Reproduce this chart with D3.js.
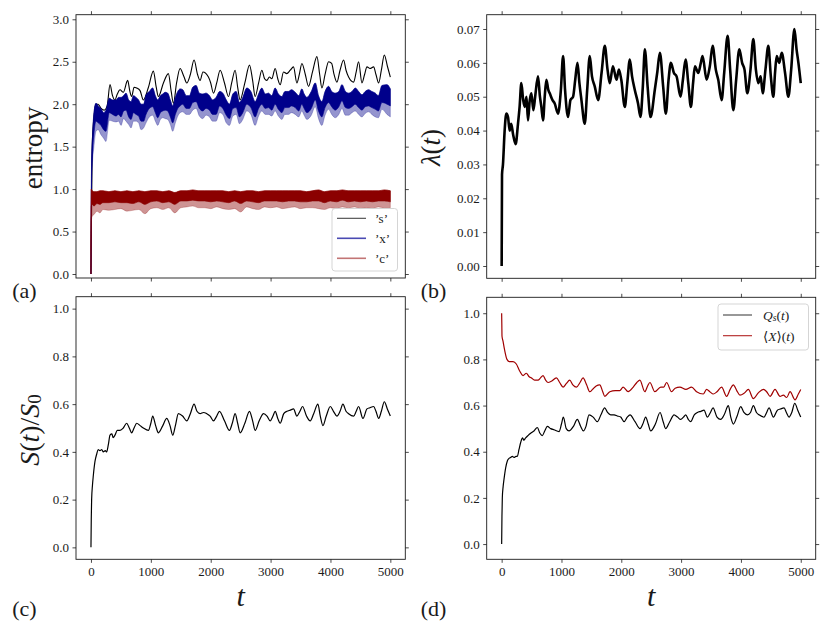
<!DOCTYPE html>
<html><head><meta charset="utf-8">
<script src="https://cdn.jsdelivr.net/npm/d3@7"></script>
<style>
body{margin:0;background:#fff}
svg text{font-family:"Liberation Serif","DejaVu Serif",serif;fill:#1a1a1a}
.tick text{font-size:13px}
</style>
</head><body><svg id="chart" width="831" height="634"></svg>
<script>
// ---------------- data ----------------
const tTicks=[0,1000,2000,3000,4000,5000];
const entropyTicks=[0,0.5,1.0,1.5,2.0,2.5,3.0];
const lambdaTicks=[0,0.01,0.02,0.03,0.04,0.05,0.06,0.07];
const ratioTicks=[0,0.2,0.4,0.6,0.8,1.0];

// (a) 's' entropy
const sT=[0,20,50,80,120,170,220,270,318,360,
 400,440,485,540,613,650,680,720,764,820,
 875,960,1042,1090,1126,1210,1293,1340,1377,1430,
 1488,1550,1600,1660,1722,1780,1823,1870,1962,2000,
 2046,2100,2157,2230,2297,2350,2408,2450,2491,2570,
 2648,2700,2742,2800,2854,2900,2937,2980,3020,3077,
 3120,3160,3216,3270,3328,3383,3439,3480,3523,3580,
 3634,3700,3774,3820,3857,3910,3969,4020,4060,4108,
 4160,4220,4260,4303,4387,4430,4470,4526,4570,4610,
 4660,4721,4760,4805,4850,4900,4950,5000];
const sV=[0,1.5,1.85,2.0,2.0,1.95,1.93,1.98,2.23,2.1,
 2.05,2.12,2.17,2.14,2.28,2.15,2.09,2.2,2.19,2.16,
 2.05,2.2,2.39,2.2,2.09,2.25,2.36,2.15,2.01,2.25,
 2.42,2.33,2.25,2.35,2.52,2.35,2.28,2.38,2.32,2.25,
 2.13,2.25,2.40,2.25,2.09,2.25,2.40,2.2,2.05,2.25,
 2.46,2.28,2.09,2.25,2.40,2.3,2.28,2.32,2.3,2.42,
 2.3,2.23,2.38,2.36,2.40,2.44,2.25,2.35,2.48,2.35,
 2.21,2.38,2.56,2.35,2.19,2.35,2.50,2.48,2.35,2.26,
 2.4,2.52,2.4,2.32,2.26,2.38,2.50,2.25,2.35,2.44,
 2.42,2.44,2.35,2.25,2.4,2.58,2.45,2.32];

// (a) 'x' entropy band (top, core bottom, spike bottom)
const xT=[0,10,25,50,84,120,167,210,251,306,
 360,418,460,502,545,585,630,669,710,752,
 795,836,880,920,975,1031,1075,1115,1160,1199,
 1240,1282,1325,1366,1410,1450,1490,1533,1590,1645,
 1700,1756,1810,1867,1920,1979,2030,2090,2150,2202,
 2260,2313,2370,2425,2480,2536,2603,2670,2742,2800,
 2853,2910,2965,3020,3076,3130,3188,3240,3299,3350,
 3411,3470,3522,3560,3606,3680,3746,3800,3857,3910,
 3969,4020,4080,4140,4192,4250,4303,4360,4414,4470,
 4526,4580,4637,4690,4749,4800,4860,4944,5000];
const xHi=[0,1.3,1.6,1.9,2.01,1.98,1.95,1.9,1.93,2.07,
 2.05,2.05,2.08,2.08,2.1,2.13,2.05,2.03,2.1,2.08,
 2.05,2.0,2.0,2.11,2.15,2.19,2.1,2.05,2.1,2.12,
 2.14,2.13,2.05,1.98,2.08,2.15,2.18,2.17,2.1,2.1,
 2.2,2.22,2.13,2.12,2.13,2.1,2.05,2.08,2.15,2.13,
 2.05,2.0,2.12,2.15,2.02,2.08,2.19,2.15,2.03,2.12,
 2.19,2.12,2.13,2.1,2.19,2.12,2.09,2.15,2.15,2.17,
 2.14,2.1,2.18,2.12,2.08,2.15,2.25,2.1,2.03,2.15,
 2.21,2.15,2.13,2.15,2.23,2.15,2.13,2.15,2.19,2.15,
 2.11,2.15,2.17,2.15,2.13,2.1,2.22,2.23,2.18];
const xMid=[0,1.1,1.4,1.65,1.8,1.78,1.75,1.7,1.68,1.9,
 1.88,1.86,1.88,1.85,1.92,1.93,1.85,1.82,1.9,1.88,
 1.86,1.8,1.8,1.88,1.95,1.97,1.9,1.84,1.9,1.92,
 1.93,1.92,1.85,1.78,1.88,1.95,1.98,2.0,1.95,1.95,
 2.02,2.03,1.95,1.92,1.95,1.93,1.88,1.88,1.98,1.95,
 1.87,1.83,1.95,1.96,1.85,1.9,2.0,1.96,1.85,1.95,
 2.0,1.95,1.96,1.93,2.0,1.94,1.9,1.96,1.96,1.98,
 1.96,1.92,2.0,1.95,1.9,1.95,2.05,1.92,1.85,1.96,
 2.02,1.97,1.93,1.97,2.04,1.96,1.95,1.97,2.0,1.96,
 1.93,1.97,1.98,1.96,1.94,1.92,2.02,2.0,1.98];
const xLo=[0,1.0,1.3,1.5,1.68,1.7,1.64,1.6,1.56,1.81,
 1.8,1.79,1.8,1.75,1.83,1.8,1.76,1.72,1.8,1.8,
 1.78,1.7,1.72,1.78,1.85,1.87,1.8,1.75,1.82,1.84,
 1.83,1.82,1.76,1.68,1.78,1.86,1.9,1.91,1.88,1.88,
 1.93,1.95,1.86,1.83,1.87,1.85,1.8,1.8,1.9,1.88,
 1.78,1.75,1.86,1.88,1.77,1.82,1.92,1.88,1.75,1.86,
 1.92,1.88,1.88,1.86,1.92,1.86,1.82,1.88,1.88,1.9,
 1.88,1.85,1.92,1.87,1.82,1.87,1.97,1.83,1.75,1.87,
 1.94,1.88,1.84,1.88,1.95,1.87,1.87,1.9,1.92,1.88,
 1.85,1.89,1.91,1.88,1.85,1.84,1.94,1.88,1.85];

// (a) 'c' entropy band
const cT=[0,5,20,50,100,150,200,
 300,400,500,600,700,800,900,1000,1100,1200,
 1300,1400,1500,1600,1700,1800,1900,2000,2100,2200,
 2300,2400,2500,2600,2700,2800,2900,3000,3100,3200,
 3300,3400,3500,3600,3700,3800,3900,4000,4100,4200,
 4300,4400,4500,4600,4700,4800,4900,5000];
const cHi=[0,1.0,0.98,0.97,0.97,0.98,0.98,
 0.97,0.98,0.97,0.98,0.97,0.98,0.97,0.98,0.98,0.97,
 0.98,0.96,0.98,0.98,0.99,0.98,0.98,0.98,0.98,0.98,
 0.97,0.98,0.97,0.98,0.98,0.97,0.98,0.98,0.98,0.98,
 0.98,0.98,0.98,0.97,0.98,0.99,0.97,0.98,0.98,0.99,
 0.98,0.98,0.98,0.98,0.98,0.98,0.99,0.98];
const cMid=[0,0.8,0.82,0.8,0.83,0.82,0.84,
 0.84,0.85,0.84,0.84,0.83,0.85,0.82,0.85,0.86,0.84,
 0.85,0.82,0.86,0.86,0.87,0.86,0.86,0.85,0.86,0.85,
 0.84,0.86,0.83,0.86,0.85,0.84,0.86,0.86,0.86,0.85,
 0.86,0.86,0.85,0.85,0.86,0.86,0.84,0.86,0.85,0.87,
 0.85,0.86,0.85,0.86,0.85,0.86,0.86,0.85];
const cLo=[0,0.65,0.68,0.7,0.74,0.72,0.76,
 0.75,0.76,0.77,0.74,0.75,0.76,0.71,0.77,0.78,0.76,
 0.78,0.72,0.78,0.79,0.80,0.78,0.78,0.77,0.79,0.77,
 0.76,0.77,0.73,0.79,0.77,0.76,0.79,0.78,0.79,0.77,
 0.78,0.79,0.77,0.78,0.78,0.77,0.76,0.78,0.77,0.79,
 0.78,0.79,0.77,0.78,0.77,0.79,0.78,0.78];

// (b) lambda(t)
const lamT=[0,6,22,50,78,106,134,160,190,234,
 273,300,329,360,385,415,440,470,497,530,
 560,608,640,664,692,720,748,780,804,850,
 887,943,990,1027,1060,1110,1150,1194,1230,1267,
 1300,1334,1389,1430,1473,1510,1557,1613,1670,1724,
 1770,1808,1860,1920,1960,2000,2059,2100,2143,2180,
 2226,2280,2321,2360,2394,2440,2489,2560,2600,2645,
 2700,2745,2790,2829,2880,2924,2991,3030,3075,3120,
 3164,3200,3231,3287,3330,3359,3426,3480,3527,3580,
 3621,3677,3720,3778,3820,3873,3920,3973,4020,4060,
 4107,4160,4207,4250,4291,4330,4364,4410,4458,4500,
 4542,4570,4598,4640,4682,4738,4793,4840,4894,4930,
 4961,5000];
const lamV=[0,0.027,0.030,0.040,0.045,0.044,0.040,0.042,0.039,0.036,
 0.042,0.047,0.054,0.049,0.047,0.050,0.043,0.049,0.051,0.046,
 0.050,0.056,0.050,0.047,0.043,0.050,0.055,0.052,0.051,0.049,
 0.048,0.045,0.052,0.062,0.052,0.044,0.049,0.050,0.055,0.060,
 0.054,0.049,0.042,0.052,0.062,0.056,0.053,0.049,0.057,0.065,
 0.058,0.054,0.059,0.055,0.058,0.055,0.047,0.054,0.061,0.056,
 0.052,0.048,0.044,0.053,0.064,0.053,0.044,0.052,0.057,0.063,
 0.053,0.045,0.055,0.060,0.057,0.056,0.050,0.055,0.061,0.054,
 0.047,0.054,0.059,0.057,0.060,0.062,0.055,0.059,0.065,0.058,
 0.055,0.049,0.057,0.068,0.058,0.046,0.055,0.064,0.060,0.058,
 0.051,0.058,0.067,0.058,0.054,0.056,0.051,0.058,0.065,0.056,
 0.050,0.057,0.062,0.060,0.063,0.057,0.050,0.058,0.070,0.064,
 0.060,0.054];

// (c) S(t)/S0 and (d) Q_s(t)
const qT=[0,5,11,25,39,67,95,120,150,180,
 206,240,262,290,318,350,370,401,440,485,
 540,596,640,680,720,764,820,875,959,1000,
 1031,1080,1126,1200,1265,1320,1366,1410,1460,1530,
 1600,1660,1722,1770,1823,1880,1934,1990,2046,2100,
 2146,2230,2313,2360,2408,2450,2492,2570,2648,2700,
 2742,2810,2882,2940,2993,3040,3077,3120,3160,3220,
 3272,3330,3383,3439,3490,3534,3600,3662,3720,3790,
 3830,3874,3930,3997,4050,4108,4160,4208,4260,4303,
 4387,4430,4470,4543,4610,4660,4721,4760,4805,4850,
 4900,4950,5000];
const ratioV=[0,0.12,0.20,0.26,0.30,0.36,0.39,0.41,0.405,0.41,
 0.40,0.405,0.40,0.43,0.47,0.475,0.46,0.47,0.49,0.49,
 0.50,0.52,0.50,0.48,0.50,0.52,0.51,0.50,0.49,0.52,
 0.55,0.51,0.48,0.51,0.54,0.51,0.47,0.51,0.56,0.55,
 0.53,0.56,0.60,0.57,0.56,0.565,0.56,0.55,0.53,0.55,
 0.57,0.53,0.49,0.52,0.56,0.52,0.48,0.52,0.57,0.53,
 0.49,0.53,0.56,0.55,0.53,0.55,0.57,0.54,0.52,0.56,
 0.57,0.575,0.58,0.55,0.57,0.59,0.55,0.53,0.56,0.60,
 0.55,0.51,0.55,0.59,0.57,0.55,0.57,0.60,0.57,0.56,
 0.55,0.57,0.59,0.54,0.58,0.585,0.59,0.57,0.54,0.57,
 0.61,0.58,0.55];
const qsV=[0,0.12,0.20,0.25,0.28,0.33,0.36,0.37,0.375,0.38,
 0.375,0.38,0.38,0.41,0.44,0.46,0.45,0.46,0.47,0.48,
 0.49,0.505,0.48,0.47,0.49,0.51,0.50,0.495,0.487,0.52,
 0.55,0.50,0.49,0.51,0.54,0.51,0.49,0.51,0.56,0.55,
 0.53,0.56,0.59,0.57,0.56,0.56,0.555,0.55,0.53,0.55,
 0.56,0.53,0.50,0.52,0.55,0.52,0.49,0.52,0.57,0.53,
 0.50,0.53,0.56,0.55,0.54,0.55,0.56,0.54,0.53,0.56,
 0.57,0.575,0.58,0.55,0.57,0.59,0.55,0.54,0.56,0.60,
 0.55,0.52,0.55,0.595,0.57,0.56,0.57,0.60,0.57,0.56,
 0.55,0.57,0.59,0.55,0.58,0.585,0.59,0.57,0.55,0.57,
 0.61,0.58,0.55];

// (d) <X>(t)
const xmT=[0,3,6,22,50,89,130,190,245,301,
 357,413,460,497,550,608,650,692,735,776,
 830,915,970,1027,1080,1138,1190,1250,1310,1361,
 1420,1473,1520,1580,1640,1690,1724,1808,1900,1975,
 2031,2115,2200,2260,2310,2394,2440,2478,2561,2660,
 2710,2757,2840,2900,2980,3080,3175,3259,3370,3426,
 3480,3538,3600,3677,3761,3820,3873,3930,3984,4060,
 4124,4207,4290,4375,4430,4487,4570,4654,4710,4765,
 4821,4905,4960,5000];
const xmV=[1.0,0.95,0.90,0.88,0.84,0.80,0.79,0.79,0.78,0.75,
 0.73,0.74,0.725,0.72,0.71,0.71,0.72,0.73,0.71,0.70,
 0.705,0.72,0.70,0.68,0.695,0.71,0.69,0.68,0.70,0.72,
 0.69,0.66,0.67,0.685,0.69,0.66,0.64,0.66,0.665,0.665,
 0.68,0.66,0.68,0.70,0.71,0.66,0.685,0.70,0.66,0.68,
 0.68,0.70,0.66,0.675,0.68,0.67,0.68,0.66,0.65,0.67,
 0.66,0.65,0.66,0.68,0.64,0.67,0.69,0.665,0.645,0.655,
 0.67,0.63,0.655,0.67,0.66,0.64,0.67,0.64,0.645,0.635,
 0.66,0.625,0.65,0.67];

const entropyLegend=["’s’","’x’","’c’"];

// ---------------- drawing ----------------
const svg=d3.select("#chart");
const INK="#1a1a1a";
const CURVE=d3.curveMonotoneX;
let clipId=0;

function makePanel(box, ydom){
  const x=d3.scaleLinear().domain([-250,5250]).range([box.x0,box.x1]);
  const y=d3.scaleLinear().domain(ydom).range([box.y1,box.y0]);
  const id="clip"+(clipId++);
  svg.append("clipPath").attr("id",id).append("rect")
    .attr("x",box.x0).attr("y",box.y0).attr("width",box.x1-box.x0).attr("height",box.y1-box.y0);
  const plot=svg.append("g").attr("clip-path","url(#"+id+")");
  return {x,y,plot,box};
}

function finishAxes(P, yticks, yfmt, showX){
  const {x,y,box}=P;
  const styl=g=>{g.select(".domain").remove();
    g.selectAll(".tick line").attr("stroke",INK).attr("stroke-width",0.8);
    g.attr("font-family",null).attr("font-size",null);};
  svg.append("g").attr("transform",`translate(${box.x0},0)`)
    .call(d3.axisLeft(y).tickValues(yticks).tickFormat(d3.format(yfmt)).tickSize(3.5).tickPadding(3.5)).call(styl);
  svg.append("g").attr("transform",`translate(${box.x1},0)`)
    .call(d3.axisRight(y).tickValues(yticks).tickFormat("").tickSize(3.5)).call(styl);
  svg.append("g").attr("transform",`translate(0,${box.y0})`)
    .call(d3.axisTop(x).tickValues(tTicks).tickFormat("").tickSize(3.5)).call(styl);
  svg.append("g").attr("transform",`translate(0,${box.y1})`)
    .call(d3.axisBottom(x).tickValues(tTicks).tickFormat(showX?d3.format("d"):"").tickSize(3.5).tickPadding(4)).call(styl);
  svg.append("rect").attr("x",box.x0).attr("y",box.y0).attr("width",box.x1-box.x0).attr("height",box.y1-box.y0)
    .attr("fill","none").attr("stroke",INK).attr("stroke-width",0.9);
}

function line(P, ts, vs, color, w){
  P.plot.append("path").datum(ts.map((t,i)=>[t,vs[i]]))
    .attr("d",d3.line().curve(CURVE).x(d=>P.x(d[0])).y(d=>P.y(d[1])))
    .attr("fill","none").attr("stroke",color).attr("stroke-width",w).attr("stroke-linejoin","round");
}
function band(P, ts, hi, lo, color, op){
  P.plot.append("path").datum(ts.map((t,i)=>[t,hi[i],lo[i]]))
    .attr("d",d3.area().curve(CURVE).x(d=>P.x(d[0])).y0(d=>P.y(d[2])).y1(d=>P.y(d[1])))
    .attr("fill",color).attr("fill-opacity",op).attr("stroke",color).attr("stroke-opacity",op).attr("stroke-width",0.6);
}

// panel (a)
const A=makePanel({x0:76,x1:405.3,y0:14.7,y1:278},[-0.047,3.054]);
line(A,sT,sV,"#000",1.1);
band(A,xT,xHi,xLo,"#00008b",0.42);
band(A,xT,xHi,xMid,"#00008b",1);
band(A,cT,cHi,cLo,"#8b0000",0.42);
band(A,cT,cHi,cMid,"#8b0000",1);
finishAxes(A,entropyTicks,".1f",false);

// panel (b)
const B=makePanel({x0:486.7,x1:815.7,y0:14.7,y1:278.3},[-0.00363,0.07422]);
line(B,lamT,lamV,"#000",2.6);
finishAxes(B,lambdaTicks,".2f",false);

// panel (c)
const C=makePanel({x0:76,x1:405.3,y0:296.7,y1:559.3},[-0.05,1.05]);
line(C,qT,ratioV,"#000",1.2);
finishAxes(C,ratioTicks,".1f",true);

// panel (d)
const D=makePanel({x0:486.7,x1:815.7,y0:297.3,y1:559.3},[-0.066,1.069]);
line(D,xmT,xmV,"#a00000",1.2);
line(D,qT,qsV,"#000",1.2);
finishAxes(D,ratioTicks,".1f",true);

// axis labels
function rotLabel(cx,cy){return svg.append("text").attr("transform",`translate(${cx},${cy}) rotate(-90)`)
  .attr("text-anchor","middle").attr("dominant-baseline","central");}
rotLabel(32.5,148).attr("font-size",27).text("entropy");
const lb=rotLabel(431,147.5).attr("font-size",27);
lb.append("tspan").attr("font-style","italic").text("λ");
lb.append("tspan").text("(");
lb.append("tspan").attr("font-style","italic").text("t");
lb.append("tspan").text(")");
const sl=rotLabel(28.5,430).attr("font-size",28);
sl.append("tspan").attr("font-style","italic").text("S");
sl.append("tspan").text("(");
sl.append("tspan").attr("font-style","italic").text("t");
sl.append("tspan").text(")/");
sl.append("tspan").attr("font-style","italic").text("S");
sl.append("tspan").attr("font-size",19).attr("dy",5).text("0");

[240.6,651.2].forEach(cx=>{
  svg.append("text").attr("x",cx).attr("y",606).attr("text-anchor","middle")
    .attr("font-size",30).attr("font-style","italic").text("t");
});

// panel letters
[["(a)",24.5,290],["(b)",433.5,290],["(c)",24.5,608],["(d)",433.5,608]].forEach(([s,cx,cy])=>{
  svg.append("text").attr("x",cx).attr("y",cy).attr("text-anchor","middle")
    .attr("dominant-baseline","central").attr("font-size",22).text(s);
});

// legend (a)
svg.append("rect").attr("x",332).attr("y",208.5).attr("width",65.5).attr("height",62.5).attr("rx",3)
  .attr("fill","#fff").attr("fill-opacity",0.85).attr("stroke","#d0d0d0").attr("stroke-width",0.9);
const legColA=["#444","#4a4ab3","#c27575"];
entropyLegend.forEach((s,i)=>{
  const yy=218.3+20*i;
  svg.append("line").attr("x1",337).attr("x2",366).attr("y1",yy).attr("y2",yy)
    .attr("stroke",legColA[i]).attr("stroke-width",i===0?1.1:1.6);
  svg.append("text").attr("x",375).attr("y",yy).attr("dominant-baseline","central").attr("font-size",13).text(s);
});

// legend (d)
svg.append("rect").attr("x",718).attr("y",304).attr("width",90.5).attr("height",46).attr("rx",3)
  .attr("fill","#fff").attr("fill-opacity",0.85).attr("stroke","#d0d0d0").attr("stroke-width",0.9);
[["#444",315],["#b22222",335.7]].forEach(([c,yy])=>{
  svg.append("line").attr("x1",723).attr("x2",752).attr("y1",yy).attr("y2",yy).attr("stroke",c).attr("stroke-width",1.1);
});
const q=svg.append("text").attr("x",763).attr("y",315).attr("dominant-baseline","central").attr("font-size",13.5);
q.append("tspan").attr("font-style","italic").text("Q");
q.append("tspan").attr("font-style","italic").attr("font-size",9.5).attr("dy",3).text("s");
q.append("tspan").attr("dy",-3).text("(");
q.append("tspan").attr("font-style","italic").text("t");
q.append("tspan").text(")");
const xm=svg.append("text").attr("x",763).attr("y",335.7).attr("dominant-baseline","central").attr("font-size",13.5);
xm.append("tspan").text("⟨");
xm.append("tspan").attr("font-style","italic").text("X");
xm.append("tspan").text("⟩(");
xm.append("tspan").attr("font-style","italic").text("t");
xm.append("tspan").text(")");
</script></body></html>
